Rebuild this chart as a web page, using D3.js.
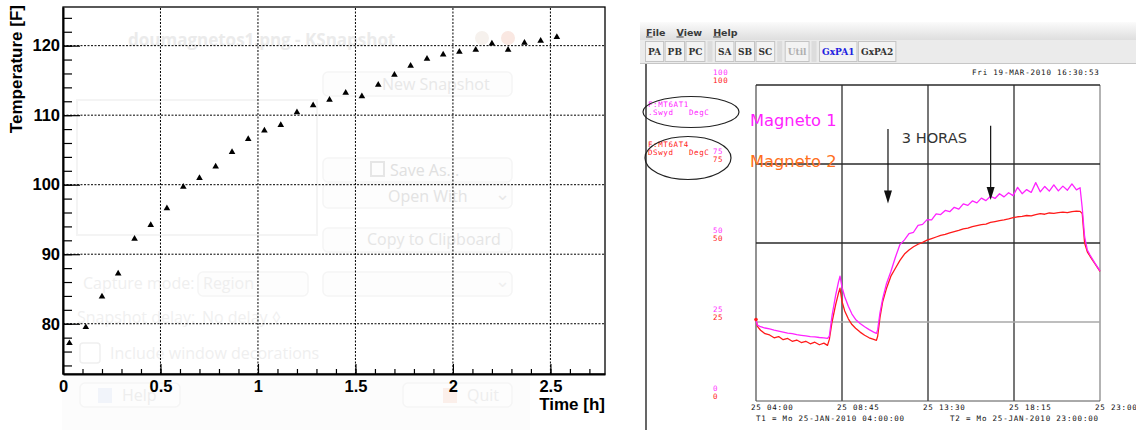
<!DOCTYPE html>
<html>
<head>
<meta charset="utf-8">
<script src="https://cdn.jsdelivr.net/npm/d3@7"></script>
<style>
  html, body { margin: 0; padding: 0; background: #fff; }
  svg { display: block; }
</style>
</head>
<body>
<svg id="chart" width="1136" height="430"></svg>
<script>
// ---------- magnet temperature log (left graph) ----------
const elapsedHours = [0.033, 0.117, 0.2, 0.283, 0.367, 0.45, 0.533, 0.617, 0.7, 0.783,
  0.867, 0.95, 1.033, 1.117, 1.2, 1.283, 1.367, 1.45, 1.533, 1.617,
  1.7, 1.783, 1.867, 1.95, 2.033, 2.117, 2.2, 2.283, 2.367, 2.45, 2.533];
const temperatureF = [77.2, 79.5, 83.9, 87.2, 92.2, 94.2, 96.6, 99.7, 100.95, 102.6,
  104.7, 106.55, 107.8, 108.56, 110.4, 111.4, 112.2, 113.2, 112.7, 114.35,
  115.8, 117.1, 118.1, 118.7, 119.1, 119.4, 120.3, 119.4, 120.4, 120.7, 121.25];
const timeTicks = [0, 0.5, 1, 1.5, 2, 2.5];
const tempTicks = [80, 90, 100, 110, 120];

// ---------- strip chart (right panel), hours after 25-JAN 04:00 ----------
const stripHours = [0, 0.08, 0.25, 0.5, 0.75, 1, 1.25, 1.5, 1.75, 2, 2.25, 2.5, 2.75, 3, 3.25, 3.5, 3.75, 3.95,
  4.05, 4.2, 4.4, 4.55, 4.64, 4.75, 4.9, 5.1, 5.3, 5.5, 5.75, 6, 6.25, 6.5, 6.65,
  6.72, 6.85, 7, 7.2, 7.45, 7.7, 7.95, 8.2, 8.45,
  8.7, 8.95, 9.2, 9.45, 9.7, 9.95, 10.2, 10.45, 10.7, 10.95, 11.2, 11.45, 11.7, 11.95, 12.2, 12.45,
  12.7, 12.95, 13.2, 13.45, 13.7, 13.95, 14.2, 14.45, 14.7, 14.95, 15.2, 15.45, 15.7, 15.95, 16.2,
  16.45, 16.7, 16.95, 17.2, 17.45, 17.7,
  17.9, 18.02, 18.15, 18.3, 18.45, 18.7, 19];
const magneto1DegC = [25.6, 24.0, 23.5, 23.1, 22.8, 22.4, 22.1, 21.8, 21.5, 21.3, 21.0, 20.8, 20.6, 20.4, 20.3, 20.1, 20.0, 19.8,
  20.5, 27.0, 33.5, 37.5, 39.5, 36.0, 33.0, 30.0, 27.5, 25.8, 24.5, 23.5, 22.6, 21.8, 21.4,
  22.5, 28.0, 32.5, 37.0, 41.0, 45.5, 49.5, 51.0, 53.0,
  53.4, 55.6, 55.9, 57.4, 57.3, 59.2, 59.0, 60.3, 59.9, 61.3, 60.7, 62.4, 61.9, 63.3, 62.7, 64.2,
  63.4, 64.8, 64.1, 65.6, 64.6, 65.9, 65.0, 67.6, 65.6, 66.9, 66.0, 69.1, 66.2, 67.9, 66.4,
  68.4, 66.5, 68.0, 66.7, 68.7, 66.8,
  67.5, 61.0, 52.0, 47.8, 46.2, 43.8, 41.2];
const magneto2DegC = [25.8, 23.6, 22.4, 21.3, 20.9, 20.0, 20.4, 19.4, 19.8, 18.9, 19.3, 18.5, 18.9, 18.1, 18.6, 17.8, 18.3, 17.6,
  19.5, 25.0, 30.5, 34.0, 35.7, 31.5, 28.5, 26.0, 24.2, 23.0, 21.8, 20.8, 20.0, 19.5, 19.2,
  20.5, 26.5, 31.5, 35.5, 39.5, 42.0, 44.5, 46.5, 47.8,
  48.8, 49.6, 50.2, 50.9, 51.4, 51.9, 52.4, 52.7, 53.2, 53.6, 54.0, 54.5, 54.7, 55.2, 55.5, 55.8,
  56.0, 56.5, 56.8, 57.1, 57.3, 57.6, 58.0, 58.3, 58.4, 58.7, 58.6, 59.0, 59.3, 59.1, 59.5,
  59.4, 59.6, 59.8, 59.6, 59.9, 60.1,
  60.0, 59.3, 50.0, 47.2, 45.8, 43.6, 41.0];
const stripScaleTicks = [0, 25, 50, 75, 100];
const stripTimeTicks = [0, 4.75, 9.5, 14.25, 19];
const stripTimeLabels = ["25 04:00", "25 08:45", "25 13:30", "25 18:15", "25 23:00"];
const menuItems = ["File", "View", "Help"];
const toolbarGroups = [["PA", "PB", "PC"], ["SA", "SB", "SC"], ["Util"], ["GxPA1", "GxPA2"]];

const ROOT_FONT = "'Liberation Sans', Arial, Helvetica, sans-serif";
const PIX_FONT = "'DejaVu Sans Mono', 'Liberation Mono', monospace";
const UI_FONT = "'Open Sans', 'Noto Sans', sans-serif";

const svg = d3.select("#chart");

// ================= left graph =================
const x = d3.scaleLinear().domain([0, 2.78]).range([63, 605]);
const y = d3.scaleLinear().domain([72.77, 125.56]).range([374, 7]);

// dialog window faintly showing through the canvas
const ghost = svg.append("g").attr("font-family", UI_FONT);
ghost.append("rect").attr("x", 62).attr("y", 372).attr("width", 468).attr("height", 58).attr("fill", "#fcfcfc");
ghost.append("rect").attr("x", 77).attr("y", 100).attr("width", 240).attr("height", 135)
  .attr("fill", "none").attr("stroke", "#f4f4f4").attr("stroke-width", 2);
function ghostButton(bx, by, bw, bh) {
  ghost.append("rect").attr("x", bx).attr("y", by).attr("width", bw).attr("height", bh).attr("rx", 5)
    .attr("fill", "#fdfdfd").attr("stroke", "#f5f5f5").attr("stroke-width", 1.5);
}
function ghostLabel(t, tx, ty, size, color, weight) {
  ghost.append("text").attr("x", tx).attr("y", ty).attr("font-size", size)
    .attr("font-weight", weight || "normal").attr("fill", color).text(t);
}
ghostLabel("doumagnetos1.png - KSnapshot", 128, 46, 17, "#ebebeb", "bold");
ghost.append("circle").attr("cx", 482).attr("cy", 38).attr("r", 7).attr("fill", "#f6f1ed");
ghost.append("circle").attr("cx", 508).attr("cy", 38).attr("r", 7).attr("fill", "#fae8e2");
ghostButton(323, 72, 189, 24);  ghostLabel("New Snapshot", 382, 90, 16, "#e8e8e8");
ghostButton(323, 158, 189, 24); ghostLabel("Save As...", 390, 176, 16, "#e0e0e0");
ghost.append("rect").attr("x", 371).attr("y", 162).attr("width", 13).attr("height", 14).attr("fill", "none").attr("stroke", "#e6e6e6").attr("stroke-width", 2);
ghostButton(323, 184, 189, 24); ghostLabel("Open With", 388, 202, 16, "#e3e3e3");
ghostLabel("\u2304", 495, 200, 18, "#e8e8e8");
ghostButton(323, 228, 189, 24); ghostLabel("Copy to Clipboard", 367, 245, 16, "#e5e5e5");
ghostButton(323, 272, 189, 24); ghostLabel("\u2304", 495, 287, 18, "#efefef");
ghostLabel("Capture mode:", 83, 289, 16, "#efefef");
ghostButton(198, 272, 110, 24); ghostLabel("Region", 203, 289, 16, "#efefef");
ghostLabel("Snapshot delay:", 77, 323, 16, "#f0f0f0");
ghostLabel("No delay \u25CA", 202, 323, 16, "#f0f0f0");
ghost.append("rect").attr("x", 80).attr("y", 343).attr("width", 20).attr("height", 20).attr("rx", 3).attr("fill", "none").attr("stroke", "#efefef").attr("stroke-width", 1.5);
ghostLabel("Include window decorations", 110, 359, 16, "#efefef");
ghostButton(80, 383, 100, 24);  ghostLabel("Help", 122, 401, 16, "#eeeeee");
ghost.append("rect").attr("x", 98).attr("y", 388).attr("width", 14).attr("height", 15).attr("fill", "#f1f4fa");
ghostButton(403, 383, 109, 24); ghostLabel("Quit", 467, 401, 16, "#eeeeee");
ghost.append("rect").attr("x", 443).attr("y", 388).attr("width", 14).attr("height", 15).attr("fill", "#fbefea");

// grid
const grid = svg.append("g").attr("stroke", "#000").attr("stroke-width", 1).attr("stroke-dasharray", "2,1.5");
grid.selectAll("line.gx").data(timeTicks.filter(d => d > 0)).join("line")
  .attr("x1", d => x(d)).attr("x2", d => x(d)).attr("y1", y.range()[0]).attr("y2", y.range()[1]);
grid.selectAll("line.gy").data(tempTicks).join("line")
  .attr("y1", d => y(d)).attr("y2", d => y(d)).attr("x1", x.range()[0]).attr("x2", x.range()[1]);

// frame
svg.append("rect").attr("x", x.range()[0]).attr("y", y.range()[1])
  .attr("width", x.range()[1] - x.range()[0]).attr("height", y.range()[0] - y.range()[1])
  .attr("fill", "none").attr("stroke", "#000").attr("stroke-width", 1.3);

// axes: ticks point inwards
const yMinor = svg.append("g").attr("transform", `translate(${x.range()[0]},0)`)
  .call(d3.axisLeft(y).tickValues(y.ticks(26)).tickSizeInner(-9).tickSizeOuter(0).tickFormat(""));
yMinor.select(".domain").remove();
const yMajor = svg.append("g").attr("transform", `translate(${x.range()[0]},0)`)
  .call(d3.axisLeft(y).tickValues(tempTicks).tickSizeInner(-17).tickSizeOuter(0).tickPadding(3));
const xMinor = svg.append("g").attr("transform", `translate(0,${y.range()[0]})`)
  .call(d3.axisBottom(x).tickValues(x.ticks(28)).tickSizeInner(-5).tickSizeOuter(0).tickFormat(""));
xMinor.select(".domain").remove();
const xMajor = svg.append("g").attr("transform", `translate(0,${y.range()[0]})`)
  .call(d3.axisBottom(x).tickValues(timeTicks).tickSizeInner(-10).tickSizeOuter(0).tickPadding(6).tickFormat(d => String(d)));
[yMinor, yMajor, xMinor, xMajor].forEach(g => g.selectAll("line").attr("stroke", "#000").attr("stroke-width", 1.2));
[yMajor, xMajor].forEach(g => {
  g.select(".domain").attr("stroke", "#000").attr("stroke-width", 2);
  g.selectAll("text").attr("font-family", ROOT_FONT).attr("font-size", 16.5).attr("font-weight", "bold").attr("fill", "#000");
});

// axis titles
svg.append("text").attr("x", x.range()[1]).attr("y", 410).attr("text-anchor", "end")
  .attr("font-family", ROOT_FONT).attr("font-size", 17).attr("font-weight", "bold").text("Time [h]");
svg.append("text").attr("transform", "translate(22,5) rotate(-90)").attr("text-anchor", "end")
  .attr("font-family", ROOT_FONT).attr("font-size", 17).attr("font-weight", "bold").text("Temperature [F]");

// markers
const tri = d3.symbol(d3.symbolTriangle, 19);
svg.append("g").selectAll("path").data(elapsedHours).join("path")
  .attr("transform", (d, i) => `translate(${x(d)},${y(temperatureF[i])})`)
  .attr("d", tri).attr("fill", "#000");

// ================= right panel =================
const defs = svg.append("defs");
const grad = defs.append("linearGradient").attr("id", "titlebar").attr("x1", 0).attr("x2", 0).attr("y1", 0).attr("y2", 1);
grad.append("stop").attr("offset", "0%").attr("stop-color", "#fbfbfb");
grad.append("stop").attr("offset", "100%").attr("stop-color", "#dedede");
svg.append("rect").attr("x", 640).attr("y", 22).attr("width", 496).attr("height", 18).attr("fill", "url(#titlebar)");
svg.append("rect").attr("x", 640).attr("y", 40).attr("width", 496).attr("height", 23).attr("fill", "#ebebeb");
svg.append("line").attr("x1", 640).attr("x2", 1136).attr("y1", 63.5).attr("y2", 63.5).attr("stroke", "#c6c6c6");

// menu bar
let mx = 646;
menuItems.forEach(m => {
  const t = svg.append("text").attr("x", mx).attr("y", 35.5).attr("font-family", "'DejaVu Sans', sans-serif")
    .attr("font-size", 9.5).attr("font-weight", "bold").attr("fill", "#3a3a3a");
  t.append("tspan").attr("text-decoration", "underline").text(m[0]);
  t.append("tspan").text(m.slice(1));
  mx += t.node().getComputedTextLength() + 11;
});

// toolbar
let bx = 645;
toolbarGroups.forEach((group, gi) => {
  group.forEach(label => {
    const g = svg.append("g");
    const rect = g.append("rect").attr("y", 41.5).attr("height", 20).attr("fill", "#f3f3f3").attr("stroke", "#c4c4c4");
    const t = g.append("text").attr("y", 55).attr("font-family", "'DejaVu Serif', serif")
      .attr("font-size", 9).attr("font-weight", "bold")
      .attr("fill", label === "Util" ? "#b0b0b0" : (label === "GxPA1" ? "#2020e0" : "#333")).text(label);
    const w = t.node().getComputedTextLength() + 5;
    rect.attr("x", bx + 0.5).attr("width", w);
    t.attr("x", bx + 3);
    bx += w + 1.5;
  });
  if (gi < toolbarGroups.length - 1) {
    svg.append("rect").attr("x", bx + 1.5).attr("y", 41).attr("width", 5).attr("height", 21).attr("fill", "#dcdcdc");
    bx += 9;
  }
});

// plot window border
svg.append("line").attr("x1", 646).attr("x2", 646).attr("y1", 64).attr("y2", 430).attr("stroke", "#000").attr("stroke-width", 1.2);

const xs = d3.scaleLinear().domain([0, 19]).range([756, 1100]);
const ys = d3.scaleLinear().domain([0, 100]).range([401, 85]);

// grid and frame
const sg = svg.append("g");
sg.selectAll("line.v").data(stripTimeTicks).join("line")
  .attr("x1", d => xs(d)).attr("x2", d => xs(d)).attr("y1", ys(0)).attr("y2", ys(100))
  .attr("stroke", (d, i) => i === stripTimeTicks.length - 1 ? "#9a9a9a" : "#4a4a4a")
  .attr("stroke-width", (d, i) => i === 0 ? 1.2 : 1.5);
sg.selectAll("line.h").data(stripScaleTicks).join("line")
  .attr("x1", xs(0)).attr("x2", xs(19)).attr("y1", d => ys(d)).attr("y2", d => ys(d))
  .attr("stroke", d => d === 25 ? "#a8a8a8" : (d === 0 ? "#555" : "#2a2a2a"))
  .attr("stroke-width", d => d === 0 ? 1 : 1.3);

// scale labels, magenta pen above red pen
const scaleG = svg.append("g").attr("font-family", PIX_FONT).attr("font-size", 7.5).attr("letter-spacing", 0.6);
scaleG.selectAll("text.m").data(stripScaleTicks).join("text")
  .attr("x", 713).attr("y", d => ys(d) - 10).attr("fill", "#ff33ff").text(d => d);
scaleG.selectAll("text.r").data(stripScaleTicks).join("text")
  .attr("x", 713).attr("y", d => ys(d) - 2.5).attr("fill", "#ff2020").text(d => d);

// time labels
const timeG = svg.append("g").attr("font-family", PIX_FONT).attr("font-size", 7.5).attr("letter-spacing", 0.8).attr("fill", "#111");
timeG.selectAll("text").data(stripTimeTicks).join("text")
  .attr("x", d => xs(d) - 5).attr("y", 409.5).text((d, i) => stripTimeLabels[i]);
timeG.append("text").attr("x", 756).attr("y", 421).text("T1 = Mo 25-JAN-2010 04:00:00");
timeG.append("text").attr("x", 950).attr("y", 421).text("T2 = Mo 25-JAN-2010 23:00:00");
timeG.append("text").attr("x", 972).attr("y", 74.5).text("Fri 19-MAR-2010 16:30:53");

// channel legends with hand-drawn ellipses
const legendG = svg.append("g").attr("font-family", PIX_FONT).attr("font-size", 7.5).attr("letter-spacing", 0.6);
legendG.append("text").attr("x", 648).attr("y", 106.7).attr("fill", "#ff22ff").text("F:MT6AT1");
legendG.append("text").attr("x", 648).attr("y", 115).attr("fill", "#ff22ff").attr("xml:space", "preserve").text(".Swyd   DegC");
legendG.append("text").attr("x", 648).attr("y", 146.7).attr("fill", "#ff2020").text("F:MT6AT4");
legendG.append("text").attr("x", 648).attr("y", 155).attr("fill", "#ff2020").attr("xml:space", "preserve").text("DSwyd   DegC");
svg.append("ellipse").attr("cx", 691).attr("cy", 112).attr("rx", 48).attr("ry", 15.5)
  .attr("fill", "none").attr("stroke", "#222").attr("stroke-width", 1.2);
svg.append("ellipse").attr("cx", 688).attr("cy", 158).attr("rx", 43).attr("ry", 21.5)
  .attr("fill", "none").attr("stroke", "#222").attr("stroke-width", 1.2);

svg.append("text").attr("x", 750).attr("y", 125.7).attr("font-family", "'DejaVu Sans', sans-serif")
  .attr("font-size", 16.3).attr("fill", "#ff22ff").text("Magneto 1");
svg.append("text").attr("x", 750).attr("y", 166.7).attr("font-family", "'DejaVu Sans', sans-serif")
  .attr("font-size", 16.3).attr("fill", "#ff7020").text("Magneto 2");

// traces
const trace = d3.line().x((d, i) => xs(stripHours[i])).y(d => ys(d));
svg.append("path").datum(magneto2DegC).attr("d", trace)
  .attr("fill", "none").attr("stroke", "#ff1a1a").attr("stroke-width", 1.3).attr("stroke-linejoin", "round");
svg.append("path").datum(magneto1DegC).attr("d", trace)
  .attr("fill", "none").attr("stroke", "#ff22ff").attr("stroke-width", 1.3).attr("stroke-linejoin", "round");
svg.append("circle").attr("cx", xs(stripHours[0])).attr("cy", ys(magneto2DegC[0])).attr("r", 1.8).attr("fill", "#ff1a1a");

// "3 HORAS" annotation with two arrows
function arrow(h, fromV, toV) {
  const ax = xs(h), tip = ys(toV);
  svg.append("line").attr("x1", ax).attr("x2", ax).attr("y1", ys(fromV)).attr("y2", tip - 10)
    .attr("stroke", "#111").attr("stroke-width", 1.2);
  svg.append("path").attr("d", `M${ax - 4},${tip - 13} L${ax + 4},${tip - 13} L${ax},${tip} Z`).attr("fill", "#111");
}
arrow(7.29, 86.1, 62.5);
arrow(12.96, 87.1, 63.6);
svg.append("text").attr("x", xs(8.05)).attr("y", ys(81.7)).attr("font-family", "'DejaVu Sans', sans-serif")
  .attr("font-size", 14.6).attr("fill", "#333").text("3 HORAS");
</script>
</body>
</html>
